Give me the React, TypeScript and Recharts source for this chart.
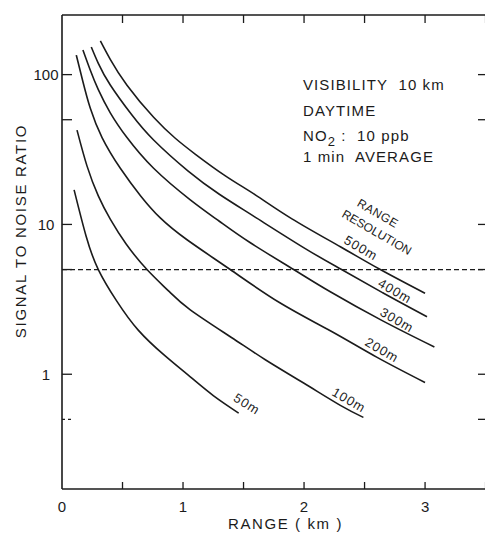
import React from "react";
import { LineChart, Line, XAxis, YAxis, ReferenceLine, Customized } from "recharts";

const INK = "#1b1b1b";
const FONT = "'Liberation Sans', Arial, Helvetica, sans-serif";

// Range (km) and signal-to-noise ratio for each range resolution
const range50 = [0.10, 0.2, 0.30, 0.45, 0.63, 0.85, 1.06, 1.25, 1.46];
const snr50 = [17, 8.3, 5.0, 3.1, 1.97, 1.33, 0.96, 0.72, 0.55];

const range100 = [0.124, 0.207, 0.3, 0.4, 0.53, 0.702, 0.88, 1.06, 1.4, 1.68, 2.0, 2.3, 2.49];
const snr100 = [42.6, 24.5, 15.5, 10.8, 7.4, 5.0, 3.6, 2.69, 1.76, 1.25, 0.87, 0.62, 0.515];

const range200 = [0.118, 0.173, 0.234, 0.331, 0.482, 0.65, 0.81, 1.033, 1.39, 1.8, 2.217, 2.6, 3.0];
const snr200 = [135, 89.7, 59.6, 38, 23.7, 15.5, 11.1, 7.9, 5.0, 3.0, 1.95, 1.3, 0.88];

const range300 = [0.173, 0.234, 0.3, 0.399, 0.537, 0.757, 1.06, 1.3, 1.55, 1.914, 2.217, 2.65, 3.077];
const snr300 = [146, 107, 79.4, 55.6, 38, 23.7, 14.6, 10.5, 7.6, 5.0, 3.55, 2.27, 1.52];

const range400 = [0.242, 0.3, 0.399, 0.578, 0.757, 1.04, 1.3, 1.58, 2.01, 2.31, 2.65, 3.016];
const snr400 = [153, 119, 85.3, 53.7, 36.6, 22.8, 15.9, 11.4, 6.9, 5.0, 3.5, 2.42];

const range500 = [0.317, 0.4, 0.537, 0.757, 0.936, 1.1, 1.35, 1.6, 1.9, 2.3, 2.63, 3.0];
const snr500 = [168, 126, 85, 51.9, 37.6, 29.5, 21.1, 15.7, 10.9, 7.1, 5.0, 3.47];

const xTicks = [0, 0.5, 1, 1.5, 2, 2.5, 3, 3.5];
const xLabels = [0, 1, 2, 3];
const yTicks = [0.5, 1, 5, 10, 50, 100];
const yLabels = [1, 10, 100];
const threshold = 5;

const X_DOMAIN: [number, number] = [0, 3.52];
const Y_DOMAIN: [number, number] = [0.1714, 250];

const toPoints = (xs: number[], ys: number[]) => xs.map((x, i) => ({ x, y: ys[i] }));
const series = [
  toPoints(range50, snr50),
  toPoints(range100, snr100),
  toPoints(range200, snr200),
  toPoints(range300, snr300),
  toPoints(range400, snr400),
  toPoints(range500, snr500),
];

const LeftTick = (props: any) => {
  const { x, y, payload } = props;
  const v = payload.value;
  return (
    <g>
      <line x1={x} y1={y} x2={x + 10} y2={y} stroke={INK} strokeWidth={1.3}
        strokeDasharray={v === 0.5 ? "3 3" : undefined} />
      {yLabels.includes(v) && (
        <text x={x - 16} y={y + 5.3} textAnchor="middle" fontSize={15} fill={INK} fontFamily={FONT}>
          {String(v)}
        </text>
      )}
    </g>
  );
};

const RightTick = (props: any) => {
  const { x, y } = props;
  return <line x1={x} y1={y} x2={x - 10} y2={y} stroke={INK} strokeWidth={1.3} />;
};

const BottomTick = (props: any) => {
  const { x, y, payload } = props;
  const v = payload.value;
  return (
    <g>
      {v !== 0 && <line x1={x} y1={y} x2={x} y2={y - 7} stroke={INK} strokeWidth={1.3} />}
      {xLabels.includes(v) && (
        <text x={x} y={y + 22.7} textAnchor="middle" fontSize={15} fill={INK} fontFamily={FONT}>
          {String(v)}
        </text>
      )}
    </g>
  );
};

const TopTick = (props: any) => {
  const { x, y, payload } = props;
  if (payload.value === 0) return <g />;
  return <line x1={x} y1={y} x2={x} y2={y + 8} stroke={INK} strokeWidth={1.3} />;
};

const CurveLabel = ({ cx, cy, text, angle = 30, size = 13, spacing = 1 }: any) => (
  <text transform={`translate(${cx},${cy}) rotate(${angle})`} x={0} y={0} dy={4.5}
    textAnchor="middle" fontSize={size} letterSpacing={spacing} fill={INK} fontFamily={FONT}>
    {text}
  </text>
);

const PRE = { whiteSpace: "pre" } as React.CSSProperties;

const Annotations = () => (
  <g>
    <text transform="translate(17.5,223) rotate(-90)" textAnchor="middle" fontSize={15}
      letterSpacing={1.7} fill={INK} fontFamily={FONT}>
      SIGNAL TO NOISE RATIO
    </text>
    <text x={277.5} y={520.5} textAnchor="middle" fontSize={15} letterSpacing={1.6} fill={INK}
      fontFamily={FONT} style={PRE}>
      {"RANGE ( km )"}
    </text>
    <g fontSize={15} letterSpacing={1.1} fill={INK} fontFamily={FONT}>
      <text x={295} y={82} style={PRE}>{"VISIBILITY  10 km"}</text>
      <text x={295} y={108.4}>DAYTIME</text>
      <text x={295} y={133} style={PRE}>
        NO<tspan fontSize={13} dy={5}>2</tspan>
        <tspan dy={-5}>{" :  10 ppb"}</tspan>
      </text>
      <text x={295} y={154} style={PRE}>{"1 min  AVERAGE"}</text>
    </g>
    <CurveLabel cx={370} cy={205} text="RANGE" size={12} spacing={0.5} />
    <CurveLabel cx={369} cy={224} text="RESOLUTION" size={12} spacing={0} />
    <CurveLabel cx={353} cy={240} text="500m" />
    <CurveLabel cx={387} cy={283} text="400m" />
    <CurveLabel cx={389} cy={312} text="300m" />
    <CurveLabel cx={374} cy={342} text="200m" />
    <CurveLabel cx={341} cy={392} text="100m" />
    <CurveLabel cx={239} cy={396} text="50m" angle={32} />
  </g>
);

export default function App() {
  return (
    <LineChart width={485} height={525} margin={{ top: 0, right: 0, bottom: 0, left: 0 }}>
      <XAxis dataKey="x" type="number" domain={X_DOMAIN} ticks={xTicks} allowDataOverflow interval={0}
        height={44} tickSize={0} tickMargin={0} tickLine={false} tick={BottomTick}
        axisLine={{ stroke: INK, strokeWidth: 1.4 }} />
      <XAxis xAxisId="top" orientation="top" dataKey="x" type="number" domain={X_DOMAIN} ticks={xTicks}
        allowDataOverflow interval={0} height={7} tickSize={0} tickMargin={0} tickLine={false} tick={TopTick}
        axisLine={{ stroke: INK, strokeWidth: 1.4 }} />
      <YAxis type="number" scale="log" domain={Y_DOMAIN} ticks={yTicks} allowDataOverflow interval={0}
        width={54} tickSize={0} tickMargin={0} tickLine={false} tick={LeftTick}
        axisLine={{ stroke: INK, strokeWidth: 1.6 }} />
      <YAxis yAxisId="right" orientation="right" type="number" scale="log" domain={Y_DOMAIN} ticks={yTicks}
        allowDataOverflow interval={0} width={5} tickSize={0} tickMargin={0} tickLine={false} tick={RightTick}
        axisLine={{ stroke: INK, strokeWidth: 1.4 }} />
      <ReferenceLine y={threshold} stroke={INK} strokeWidth={1.2} strokeDasharray="5 3" />
      {series.map((d, i) => (
        <Line key={i} data={d} dataKey="y" type="natural" stroke={INK} strokeWidth={1.6}
          dot={false} activeDot={false} isAnimationActive={false} />
      ))}
      <Customized component={Annotations} />
    </LineChart>
  );
}
